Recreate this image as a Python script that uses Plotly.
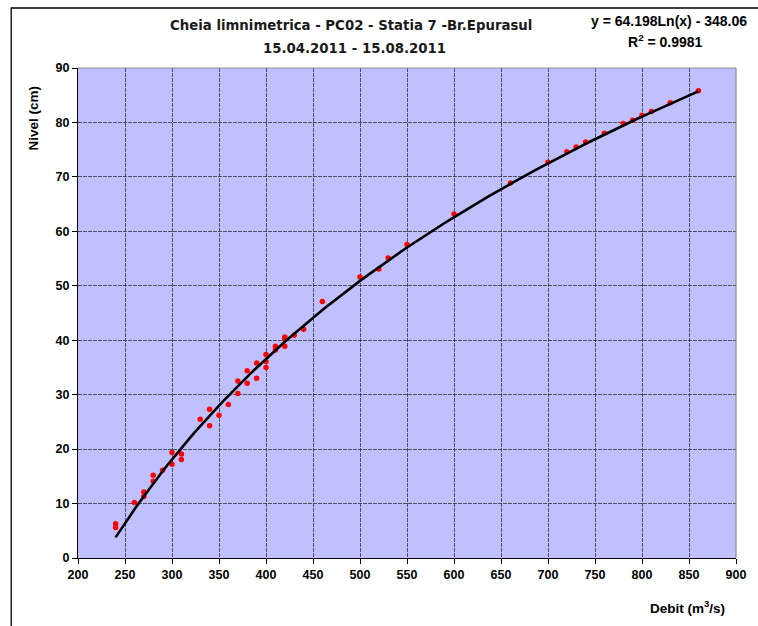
import numpy as np
import plotly.graph_objects as go

# ---- data ----
debit = [240, 240, 260, 270, 270, 280, 280, 290, 300, 300, 310, 310, 330, 340, 340,
         350, 360, 370, 370, 380, 380, 390, 390, 400, 400, 400, 410, 410, 420, 420,
         420, 430, 440, 460, 500, 520, 530, 550, 600, 660, 700, 720, 730, 740, 760,
         780, 790, 800, 810, 830, 860]
nivel = [6.3, 5.6, 10.2, 12.1, 11.3, 15.2, 14.1, 16.1, 19.4, 17.2, 19.1, 18.1, 25.5, 27.3, 24.3,
         26.2, 28.2, 32.5, 30.2, 34.4, 32.1, 35.8, 33.0, 37.4, 36.1, 35.0, 38.9, 38.2, 40.6, 40.2,
         38.9, 40.9, 42.0, 47.1, 51.6, 53.1, 55.1, 57.6, 63.2, 68.9, 72.7, 74.6, 75.5, 76.4, 78.0,
         79.8, 80.4, 81.3, 82.0, 83.6, 85.8]

# logarithmic trendline as printed on the chart
coef_a = 64.198
coef_b = -348.06
r2_text = "0.9981"
trend_x = np.linspace(min(debit), max(debit), 125)
trend_y = coef_a * np.log(trend_x) + coef_b

x_ticks = list(range(200, 901, 50))
y_ticks = list(range(0, 91, 10))

title_line1 = "Cheia limnimetrica - PC02 - Statia 7 -Br.Epurasul"
title_line2 = "15.04.2011 - 15.08.2011"

W, H = 758, 626
L, R, T, B = 78, 743, 68, 558   # plot-area pixel box


def px(xp):
    return (xp - L) / (R - L)


def py(yp):
    return (B - yp) / (B - T)


fig = go.Figure()
fig.add_trace(go.Scatter(x=debit, y=nivel, mode="markers",
                         marker=dict(color="#FF0000", size=5.5, line=dict(width=0)),
                         showlegend=False, hoverinfo="x+y"))
fig.add_trace(go.Scatter(x=trend_x, y=trend_y, mode="lines",
                         line=dict(color="black", width=2.6),
                         showlegend=False, hoverinfo="skip"))

tick_font = dict(family="Liberation Sans, Arial, sans-serif", size=12.5, color="black")

fig.update_layout(
    width=W, height=H,
    margin=dict(l=L, r=W - R, t=T, b=H - B, pad=0),
    paper_bgcolor="white",
    plot_bgcolor="#C0C0FF",
    showlegend=False,
    xaxis=dict(range=[200, 900], tickvals=x_ticks, ticktext=[f"<b>{v}</b>" for v in x_ticks],
               showgrid=True, gridcolor="rgba(50,50,60,0.8)", gridwidth=1, griddash="4px,1px",
               showline=True, linecolor="black", linewidth=1.2,
               ticks="outside", ticklen=5, tickcolor="black", tickfont=tick_font,
               zeroline=False, fixedrange=True),
    yaxis=dict(range=[0, 90], tickvals=y_ticks, ticktext=[f"<b>{v}</b>" for v in y_ticks],
               showgrid=True, gridcolor="rgba(50,50,60,0.8)", gridwidth=1, griddash="4px,1px",
               showline=True, linecolor="black", linewidth=1.2,
               ticks="outside", ticklen=5, tickcolor="black", tickfont=tick_font,
               zeroline=False, fixedrange=True),
)

# plot-area border (top & right in gray)
fig.add_shape(type="line", xref="paper", yref="paper", x0=0, x1=1, y0=1, y1=1,
              line=dict(color="#8C8C8C", width=1.2))
fig.add_shape(type="line", xref="paper", yref="paper", x0=1, x1=1, y0=0, y1=1,
              line=dict(color="#8C8C8C", width=1.2))

# outer chart border (extends beyond the right / bottom edge)
fig.add_shape(type="rect", xref="paper", yref="paper",
              x0=px(10.5), x1=px(775), y0=py(640), y1=py(8),
              line=dict(color="black", width=1.3), fillcolor="rgba(0,0,0,0)", layer="below")

title_font = dict(family="DejaVu Sans, Verdana, sans-serif", size=13.3, color="#1a1a1a")
fig.add_annotation(text=f"<b>{title_line1}</b>", xref="paper", yref="paper", x=px(354), y=py(25),
                   xanchor="center", yanchor="middle", showarrow=False, font=title_font)
fig.add_annotation(text=f"<b>{title_line2}</b>", xref="paper", yref="paper", x=px(357), y=py(49),
                   xanchor="center", yanchor="middle", showarrow=False, font=title_font)

eq_font = dict(family="Liberation Sans Narrow, Arial Narrow, Liberation Sans, sans-serif",
               size=14, color="black")
fig.add_annotation(text=f"<b>y = {coef_a:.3f}Ln(x) - {abs(coef_b):.2f}</b>", xref="paper", yref="paper",
                   x=px(675), y=py(21), xanchor="center", yanchor="middle", showarrow=False, font=eq_font)
fig.add_annotation(text=f"<b>R<sup>2</sup> = {r2_text}</b>", xref="paper", yref="paper",
                   x=px(672), y=py(41), xanchor="center", yanchor="middle", showarrow=False, font=eq_font)

lab_font = dict(family="Liberation Sans, Arial, sans-serif", size=13.5, color="black")
fig.add_annotation(text="<b>Debit (m<sup>3</sup>/s)</b>", xref="paper", yref="paper",
                   x=px(734), y=py(607), xanchor="right", yanchor="middle", showarrow=False, font=lab_font)
fig.add_annotation(text="<b>Nivel (cm)</b>", xref="paper", yref="paper", textangle=-90,
                   x=px(33), y=py(118), xanchor="center", yanchor="middle", showarrow=False, font=lab_font)

fig.write_html("out.html")
